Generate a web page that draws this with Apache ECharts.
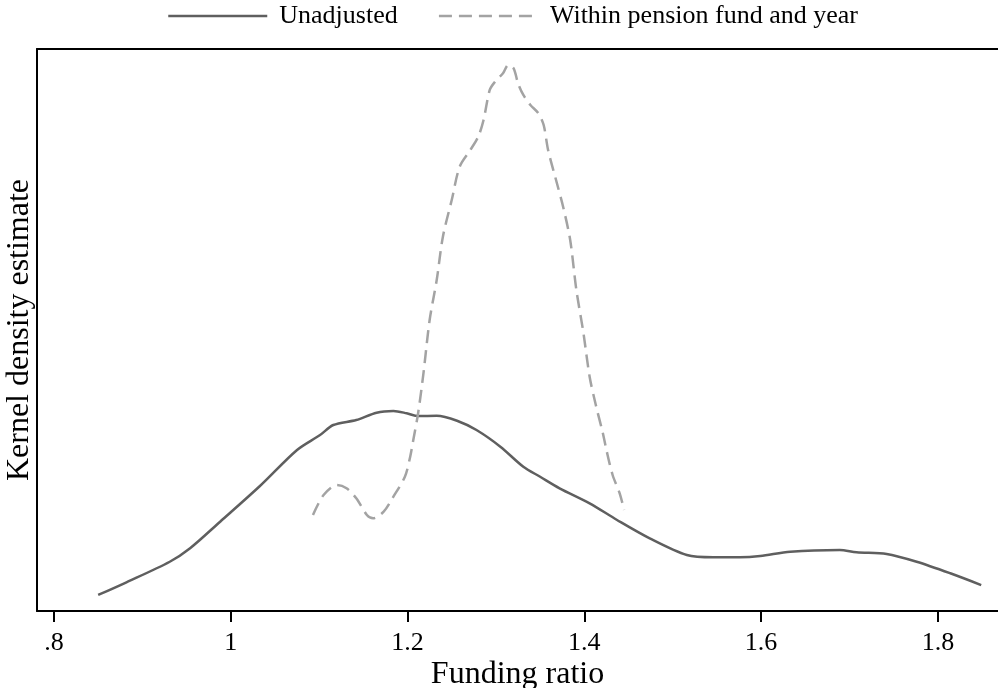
<!DOCTYPE html>
<html>
<head>
<meta charset="utf-8">
<title>Kernel density of funding ratio</title>
<script src="https://cdn.jsdelivr.net/npm/echarts@6/dist/echarts.min.js"></script>
<style>
    html, body { margin: 0; padding: 0; background: #fff; }
    #main { width: 998px; height: 688px; }
</style>
</head>
<body>
<div id="main"></div>
<script>
// funding ratio ticks
var tickValues = [0.8, 1.0, 1.2, 1.4, 1.6, 1.8];
var tickLabels = ['.8', '1', '1.2', '1.4', '1.6', '1.8'];

// unadjusted kernel density
var unadjX = [0.850, 0.882, 0.931, 0.954, 0.988, 1.033, 1.075, 1.101, 1.116,
    1.142, 1.165, 1.184, 1.199, 1.212, 1.233, 1.256, 1.278, 1.305, 1.331,
    1.350, 1.372, 1.406, 1.437, 1.474, 1.516, 1.546, 1.576, 1.599, 1.633,
    1.689, 1.708, 1.742, 1.776, 1.814, 1.849];
var unadjY = [0.157, 0.281, 0.482, 0.614, 0.874, 1.223, 1.576, 1.722, 1.820,
    1.869, 1.941, 1.957, 1.935, 1.908, 1.911, 1.862, 1.771, 1.608, 1.412,
    1.314, 1.201, 1.054, 0.891, 0.711, 0.548, 0.526, 0.526, 0.538, 0.580,
    0.597, 0.574, 0.558, 0.482, 0.369, 0.254];

// within pension fund and year
var withinX = [1.093, 1.105, 1.120, 1.131, 1.142, 1.154, 1.161, 1.173, 1.184, 1.197,
    1.203, 1.2065, 1.212, 1.218, 1.225, 1.233, 1.240, 1.250, 1.259, 1.271,
    1.280, 1.286, 1.293, 1.299, 1.308, 1.314, 1.320, 1.325, 1.331, 1.339,
    1.348, 1.354, 1.359, 1.369, 1.376, 1.384, 1.391, 1.399, 1.406, 1.413,
    1.421, 1.425, 1.432, 1.440, 1.445];
var withinY = [0.940, 1.135, 1.233, 1.201, 1.103, 0.940, 0.907, 0.972, 1.119, 1.314,
    1.510, 1.673, 1.938, 2.326, 2.848, 3.239, 3.663, 4.022, 4.348, 4.511,
    4.642, 4.805, 5.099, 5.180, 5.262, 5.344, 5.311, 5.164, 5.050, 4.952,
    4.871, 4.756, 4.512, 4.186, 3.957, 3.631, 3.141, 2.721, 2.293, 2.016,
    1.739, 1.576, 1.331, 1.152, 0.988];

function pairs(xs, ys) {
    var out = [];
    for (var i = 0; i < xs.length; i++) {
        out.push([xs[i], ys[i]]);
    }
    return out;
}

var font = 'Liberation Serif';
var mychart = echarts.init(document.getElementById('main'));

var option = {
    backgroundColor: '#fff',
    animation: false,
    textStyle: { fontFamily: font, color: '#000' },
    legend: {
        left: 162,
        top: -2,
        itemWidth: 99,
        itemHeight: 26,
        itemGap: 40,
        itemStyle: { opacity: 0 },
        lineStyle: { width: 2.5 },
        textStyle: { fontFamily: font, fontSize: 26, color: '#000', padding: [0, 0, 0, 7] },
        data: ['Unadjusted', 'Within pension fund and year']
    },
    grid: {
        left: 37,
        right: 0,
        top: 49,
        bottom: 77,
        containLabel: false,
        outerBoundsMode: 'none'
    },
    xAxis: [
        {
            type: 'value',
            min: 0.7808,
            max: 1.868,
            name: 'Funding ratio',
            nameLocation: 'middle',
            nameGap: 48,
            nameMoveOverlap: false,
            nameTextStyle: { fontFamily: font, fontSize: 32, color: '#000' },
            axisLine: { lineStyle: { color: '#000', width: 2 } },
            axisTick: {
                customValues: tickValues,
                length: 11,
                lineStyle: { color: '#000', width: 2 }
            },
            axisLabel: {
                customValues: tickValues,
                margin: 19,
                fontFamily: font,
                fontSize: 26,
                color: '#000',
                formatter: function (v) {
                    for (var i = 0; i < tickValues.length; i++) {
                        if (Math.abs(tickValues[i] - v) < 1e-6) return tickLabels[i];
                    }
                    return '';
                }
            },
            splitLine: { show: false }
        },
        {
            type: 'value',
            position: 'top',
            min: 0.7808,
            max: 1.868,
            axisLine: { show: true, lineStyle: { color: '#000', width: 2 } },
            axisTick: { show: false },
            axisLabel: { show: false },
            splitLine: { show: false }
        }
    ],
    yAxis: {
        type: 'value',
        min: 0,
        max: 5.5,
        name: 'Kernel density estimate',
        nameLocation: 'middle',
        nameGap: 1,
        nameTextStyle: { fontFamily: font, fontSize: 32, color: '#000' },
        axisLine: { show: true, lineStyle: { color: '#000', width: 2 } },
        axisTick: { show: false },
        axisLabel: { show: false },
        splitLine: { show: false }
    },
    series: [
        {
            name: 'Unadjusted',
            type: 'line',
            data: pairs(unadjX, unadjY),
            showSymbol: false,
            symbol: 'none',
            smooth: 0.3,
            lineStyle: { color: '#5f5f5f', width: 2.5 },
            itemStyle: { color: '#5f5f5f' }
        },
        {
            name: 'Within pension fund and year',
            type: 'line',
            data: pairs(withinX, withinY),
            showSymbol: false,
            symbol: 'none',
            smooth: 0.3,
            lineStyle: { color: '#a3a3a3', width: 2.5, type: [13, 7] },
            itemStyle: { color: '#a3a3a3' }
        }
    ]
};

mychart.setOption(option, true);
</script>
</body>
</html>
